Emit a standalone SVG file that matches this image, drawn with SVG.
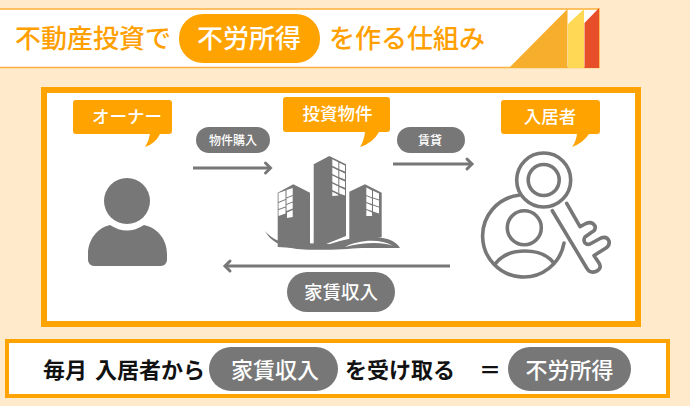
<svg xmlns="http://www.w3.org/2000/svg" width="690" height="406" viewBox="0 0 690 406">
<style>
text{font-family:"Noto Sans CJK JP","Noto Sans",sans-serif;text-anchor:middle}
.t{font-size:26px;fill:#ffa000;text-anchor:start;font-weight:500}
.w{fill:#fff;font-weight:500}
.c{fill:#ffa300}
.g{fill:#777}
.k{fill:none;stroke:#777;stroke-width:3.600;stroke-linecap:round;stroke-linejoin:round}
.b{font-size:22px;font-weight:700;fill:#111}
.win{fill:#fff}
.a{fill:none;stroke:#777;stroke-width:3}
</style>
<defs>
<marker id="h" markerUnits="userSpaceOnUse" markerWidth="14" markerHeight="16" refX="10" refY="8" orient="auto"><path d="M5 3L10 8L5 13" fill="none" stroke="#777" stroke-width="3" stroke-linecap="round"/></marker>
</defs>
<rect width="690" height="406" fill="#ffebcc"/>
<g id="title">
<rect x="-2" y="9" width="601" height="58.500" fill="#fff" stroke="#fbb03b" stroke-width="1.500"/>
<polygon points="509,68 567.500,9 567.500,68" fill="#f7ae2d"/>
<polygon points="568,24 584,9 584,68 568,68" fill="#ffd955"/>
<polygon points="584.500,23 599,8 599,68 584.500,68" fill="#e64f27"/>
<text class="t" x="15" y="47.500">不動産投資で</text>
<rect x="179" y="14" width="141" height="49" rx="24" class="c"/>
<text class="t" x="197" y="47.500" style="fill:#fff">不労所得</text>
<text class="t" x="329" y="47.500">を作る仕組み</text>
</g>
<rect id="main" x="44" y="90" width="594" height="234" fill="#fff" stroke="#ffa300" stroke-width="6"/>
<g id="connectors">
<path class="a" d="M193 168H270.500" marker-end="url(#h)"/>
<path class="a" d="M393 164H472" marker-end="url(#h)"/>
<path class="a" d="M450 266H225" marker-end="url(#h)"/>
</g>
<g id="owner-label">
<path class="c" d="M76 100H169a3 3 0 0 1 3 3V131a3 3 0 0 1-3 3H160Q155 144 145 147Q149 141 150 134H76a3 3 0 0 1-3-3V103a3 3 0 0 1 3-3Z"/>
<text class="w" x="127" y="123" font-size="17.500">オーナー</text>
</g>
<g id="property-label">
<path class="c" d="M286 97H387a3 3 0 0 1 3 3V129a3 3 0 0 1-3 3H379Q373 143 360 147Q364 141 365 132H286a3 3 0 0 1-3-3V100a3 3 0 0 1 3-3Z"/>
<text class="w" x="337.500" y="120" font-size="17.500">投資物件</text>
</g>
<g id="tenant-label">
<path class="c" d="M504 100H597a3 3 0 0 1 3 3V131a3 3 0 0 1-3 3H589Q583 143 572 147Q576 142 577 134H504a3 3 0 0 1-3-3V103a3 3 0 0 1 3-3Z"/>
<text class="w" x="550" y="123" font-size="17.500">入居者</text>
</g>
<g id="purchase-pill">
<rect x="196" y="127" width="74" height="26" rx="13" class="g"/>
<text class="w" x="233" y="144.500" font-size="12">物件購入</text>
</g>
<g id="rent-pill">
<rect x="397" y="127" width="68" height="26" rx="13" class="g"/>
<text class="w" x="430" y="144.500" font-size="12">賃貸</text>
</g>
<g id="income-pill">
<rect x="287" y="272" width="108" height="40" rx="20" class="g"/>
<text class="w" x="341" y="298.500" font-size="18.500">家賃収入</text>
</g>
<g id="owner">
<circle cx="127" cy="201" r="23" class="g"/>
<path class="g" d="M110 225Q127 236 144 225C158 228 167 240 167 254V260a6 6 0 0 1-6 6H94a6 6 0 0 1-6-6V254C88 240 97 228 110 225Z"/>
</g>
<g id="property">
<polygon class="g" points="277.700,192.700 293.300,184.300 310,192.700 310,249 277.700,247"/>
<polygon class="g" points="313.700,164.300 329.300,156 346,164.300 346,236 313.700,249"/>
<polygon class="g" points="349.300,191.700 365,184.300 381.700,192.700 381.700,237 349.300,244"/>
<path class="g" d="M265 231C270 241 281 247 297 249C320 251 345 249 362 248L400 248C396 241 388 238 375 237C360 236 345 239 330 244L300 243C285 244 273 241 265 231Z"/>
<path fill="#fff" d="M345 247C358 240 380 238 393 246C380 241 362 243 345 247Z"/>
<g class="win">
<polygon points="332.300,159.300 338.300,162.300 338.300,168.800 332.300,165.800"/><polygon points="339.300,162.700 345,165.400 345,171.500 339.300,169.200"/>
<polygon points="332.300,167.400 338.300,170.400 338.300,176.900 332.300,173.900"/><polygon points="339.300,170.800 345,173.500 345,179.600 339.300,177.300"/>
<polygon points="332.300,175.500 338.300,178.500 338.300,185 332.300,182"/><polygon points="339.300,178.900 345,181.600 345,187.700 339.300,185.400"/>
<polygon points="332.300,183.600 338.300,186.600 338.300,193.100 332.300,190.100"/><polygon points="339.300,187 345,189.700 345,195.600 339.300,193.400"/>
<polygon points="332.300,191.700 338.300,194.700 338.300,194.700 338.300,195.600 332.300,196"/>
<polygon points="278.500,193 285.500,190.500 285.500,199 278.500,202"/><polygon points="286.500,190 292.700,188 292.700,195 286.500,197.500"/>
<polygon points="278.500,203 285.500,200 285.500,206.500 278.500,209"/><polygon points="286.500,198.500 292.700,196 292.700,201.500 286.500,204"/>
<polygon points="278.500,210 285.500,207.500 285.500,213.500 278.500,216"/><polygon points="286.500,205 292.700,202.500 292.700,208.500 286.500,211"/>
<polygon points="287,212.500 292.700,210 292.700,217 287,218"/>
<polygon points="366.300,187.500 372,190.500 372,197.500 366.300,195"/><polygon points="373,190.700 379,193.500 379,199.500 373,197.500"/>
<polygon points="366.300,196 372,198.500 372,204 366.300,202"/><polygon points="373,198.500 379,200.500 379,206.500 373,204.500"/>
<polygon points="366.300,203 372,205.500 372,211 366.300,209"/><polygon points="373,205.500 379,207.500 379,213.500 373,211.500"/>
<polygon points="366.300,210 372,212.500 372,216 366.300,216"/>
</g>
</g>
<g id="tenant">
<circle class="k" cx="543.700" cy="180" r="27"/>
<circle class="k" cx="543.700" cy="180" r="15.500"/>
<path class="k" d="M518.500 195.300A41 41 0 1 0 564 243"/>
<circle class="k" cx="524.300" cy="227.700" r="17"/>
<path class="k" d="M495.700 263.300C503 254 514 251 525 251C536 251 547 254 554 263.300"/>
<path class="k" d="M566.700 203.300L580 226.700L586 223.500Q592 221 595 226Q596 230 592 232L585 237Q583 240 585 243Q587 245 590 244L601 238Q607 236 609 241Q610 245 606 248L594 255.500L599 263Q602 268 597 271Q590 274 587 268.500L552.300 210.700"/>
</g>
<g id="summary">
<rect x="7" y="341" width="661" height="55" fill="#fff" stroke="#ffa300" stroke-width="4"/>
<text class="b" x="65" y="378">毎月</text>
<text class="b" x="150" y="378">入居者から</text>
<rect x="209" y="347" width="129" height="44" rx="22" class="g"/>
<text class="w" x="275" y="377.500" font-size="22">家賃収入</text>
<text class="b" x="400" y="378">を受け取る</text>
<text class="b" x="490" y="378">＝</text>
<rect x="508" y="347" width="123" height="44" rx="22" class="g"/>
<text class="w" x="569.500" y="377.500" font-size="22">不労所得</text>
</g>
</svg>
